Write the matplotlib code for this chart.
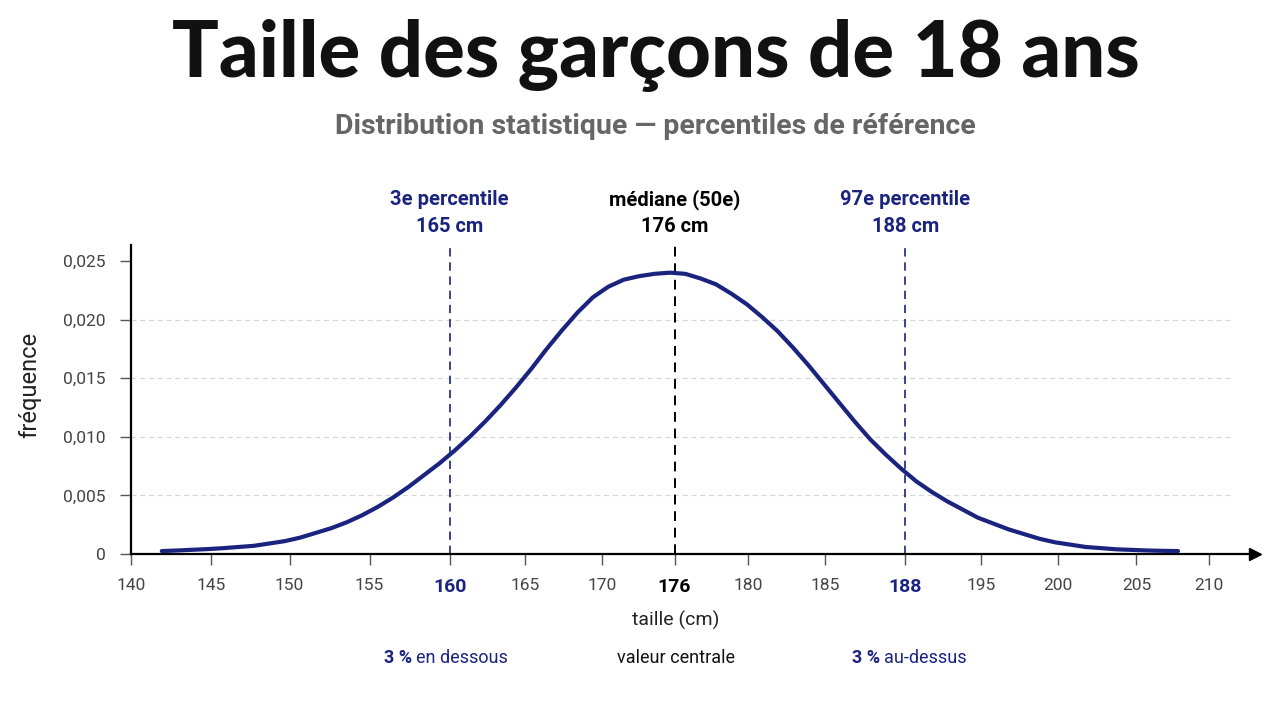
import matplotlib.pyplot as plt

# curve (x in axis units, y = frequency)
taille = [142, 143, 144, 145, 146, 147, 148, 149, 150, 151,
          152, 153, 154, 155, 156, 157, 158, 159, 160, 161,
          162, 163, 164, 165, 166, 167, 168, 169, 170, 171,
          172, 173, 174, 175, 176, 177, 178, 179, 180, 181,
          182, 183, 184, 185, 186, 187, 188, 189, 190, 191,
          192, 193, 194, 195, 196, 197, 198, 199, 200, 201,
          202, 203, 204, 205, 206, 207, 208]
frequence = [0.00025, 0.0003, 0.00036, 0.00042, 0.0005, 0.0006, 0.0007, 0.0009, 0.0011, 0.0014,
             0.0018, 0.0022, 0.0027, 0.0033, 0.0040, 0.0048, 0.0057, 0.0067, 0.0077, 0.0088,
             0.0100, 0.0113, 0.0127, 0.0142, 0.0158, 0.0175, 0.0191, 0.0206, 0.0219, 0.0228,
             0.0234, 0.0237, 0.0239, 0.0240, 0.0239, 0.0235, 0.0230, 0.0222, 0.0213, 0.0202,
             0.0190, 0.0176, 0.0161, 0.0145, 0.0129, 0.0113, 0.0098, 0.0085, 0.0073, 0.0062,
             0.0053, 0.0045, 0.0038, 0.0031, 0.0026, 0.0021, 0.0017, 0.0013, 0.0010, 0.0008,
             0.0006, 0.0005, 0.0004, 0.00035, 0.0003, 0.00027, 0.00025]

xtick_pos = [140, 145.2, 150.3, 155.5, 160.7, 165.6, 170.6, 175.3, 180.1, 185.1, 190.3, 195.2, 200.2, 205.3, 210]
xtick_labels = ["140", "145", "150", "155", "160", "165", "170", "176", "180", "185", "188", "195", "200", "205", "210"]
ytick_pos = [0, 0.005, 0.010, 0.015, 0.020, 0.025]
ytick_labels = ["0", "0,005", "0,010", "0,015", "0,020", "0,025"]

# percentile markers: position on axis, header, value
repere_pos = [160.7, 175.3, 190.3]
repere_titre = ["3e percentile", "médiane (50e)", "97e percentile"]
repere_valeur = ["165 cm", "176 cm", "188 cm"]

navy = "#1a237e"
W, H = 1280, 702

def fx(px):
    return px / W

def fy(py):
    return 1 - py / H

plt.rcParams['font.family'] = ['Roboto', 'DejaVu Sans']

fig = plt.figure(figsize=(12.8, 7.02), dpi=100)
ax = fig.add_axes([fx(131), 148 / H, (1255 - 131) / W, (554 - 245) / H])
ax.set_xlim(140, 213)
ax.set_ylim(0, 0.02636)

for s in ["top", "right"]:
    ax.spines[s].set_visible(False)
for s in ["left", "bottom"]:
    ax.spines[s].set_linewidth(1.6)
    ax.spines[s].set_color("black")

# axis arrows
ax.plot(1, 0, ">", color="black", ms=8, transform=ax.get_yaxis_transform(), clip_on=False)
ax.plot(0, 1, "^", color="black", ms=8, transform=ax.get_xaxis_transform(), clip_on=False)

# dashed grid
ax.hlines(ytick_pos[1:-1], 140, 211.5, colors="#d6d6d6", linestyles=(0, (4, 3)), lw=0.9, zorder=0)

ax.set_yticks(ytick_pos)
ax.set_yticklabels(ytick_labels)
ax.set_xticks(xtick_pos)
ax.set_xticklabels(xtick_labels)
ax.tick_params(axis="both", length=8, width=1, color="#555555", labelcolor="#444444", labelsize=12.5)
ax.tick_params(axis="x", pad=9)
ax.tick_params(axis="y", pad=10)

for lab in ax.get_xticklabels():
    if lab.get_text() in ("160", "188"):
        lab.set_color(navy)
        lab.set_fontweight("bold")
        lab.set_fontsize(14)
    elif lab.get_text() == "176":
        lab.set_color("black")
        lab.set_fontweight("bold")
        lab.set_fontsize(14)

# percentile lines
top = 0.02653
for i, x in enumerate(repere_pos):
    c = "black" if i == 1 else navy
    ax.vlines(x, 0, top, colors=c, linestyles=(0, (5, 3.5)), lw=1.4 if i == 1 else 1.2, clip_on=False, zorder=1)
    px = 131 + (x - 140) * (1124 / 73)
    fig.text(fx(px), fy(200), repere_titre[i], ha="center", va="center", fontsize=14.5,
             fontweight="bold", color=c)
    fig.text(fx(px), fy(226), repere_valeur[i], ha="center", va="center", fontsize=14.5,
             fontweight="bold", color=c)

ax.plot(taille, frequence, color=navy, lw=3, solid_capstyle="round", solid_joinstyle="round", zorder=3)

# titles
fig.text(fx(656), fy(56), "Taille des garçons de 18 ans", ha="center", va="center",
         fontsize=56, fontweight="black", color="#111111", family=["Lato", "DejaVu Sans"])
fig.text(fx(655), fy(126), "Distribution statistique — percentiles de référence", ha="center",
         va="center", fontsize=20.5, fontweight="bold", color="#666666")

fig.text(fx(676), fy(620), "taille (cm)", ha="center", va="center", fontsize=14, color="#222222")
fig.text(fx(30), fy(385), "fréquence", ha="center", va="center", fontsize=17, color="#222222",
         rotation=90)

# notes under the axis
fig.text(fx(384), fy(658), "3 %", ha="left", va="center", fontsize=13, fontweight="bold", color=navy)
fig.text(fx(416), fy(658), "en dessous", ha="left", va="center", fontsize=13, color=navy)
fig.text(fx(676), fy(658), "valeur centrale", ha="center", va="center", fontsize=13, color="#111111")
fig.text(fx(852), fy(658), "3 %", ha="left", va="center", fontsize=13, fontweight="bold", color=navy)
fig.text(fx(884), fy(658), "au-dessus", ha="left", va="center", fontsize=13, color=navy)

fig.savefig("out.png", dpi=100, facecolor="white")
